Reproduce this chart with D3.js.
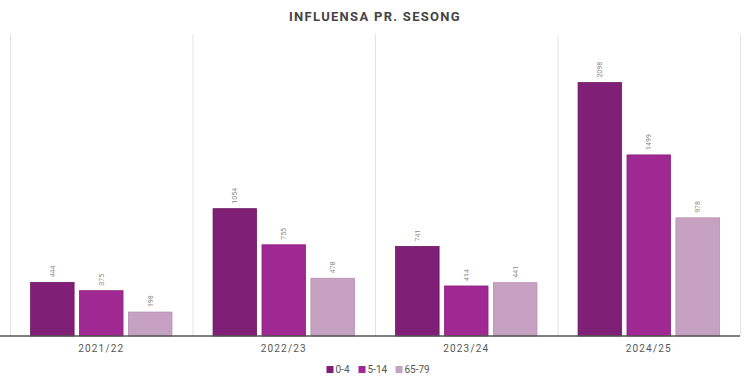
<!DOCTYPE html>
<html><head><meta charset="utf-8">
<script src="https://cdn.jsdelivr.net/npm/d3@7"></script>
<style>body{margin:0;background:#fff}svg{display:block;font-family:Roboto, "Noto Sans", sans-serif}</style>
</head><body><svg id="c" width="750" height="383"></svg>
<script>
const seasons = ["2021/22","2022/23","2023/24","2024/25"];
const groups = ["0-4","5-14","65-79"];
const v0_4 = [444,1054,741,2098];
const v5_14 = [375,755,414,1499];
const v65_79 = [198,478,441,978];
const colors = ["#7f1f75","#a02893","#c7a1c2"];
const strokes = ["#6e1a65","#8c2181","#b58db0"];
const yMax = 2500;

const svg = d3.select("#c");
const W=750,H=383, L=10, R=740, T=34, B=336;
const series=[v0_4,v5_14,v65_79];
const x = d3.scaleBand().domain(seasons).range([L,R]).padding(0);
const xi = d3.scaleBand().domain(groups).range([0,x.bandwidth()]).paddingInner(0.11).paddingOuter(0.42);
const y = d3.scaleLinear().domain([0,yMax]).range([B,T]);

svg.append("text").attr("x",375).attr("y",21).attr("text-anchor","middle")
 .attr("font-size",13).attr("font-weight",700).attr("letter-spacing",1.3).attr("fill","#444")
 .text("INFLUENSA PR. SESONG");

// gridlines
const gl = seasons.map(s=>x(s)).concat([R]);
svg.selectAll(".g").data(gl).enter().append("line")
 .attr("x1",d=>d+0.5).attr("x2",d=>d+0.5).attr("y1",T).attr("y2",B).attr("stroke","#e2e2e2").attr("stroke-width",1);

seasons.forEach((s,i)=>{
  groups.forEach((g,j)=>{
    const val=series[j][i];
    const bx=x(s)+xi(g), bw=xi.bandwidth();
    svg.append("rect").attr("x",bx).attr("y",y(val)).attr("width",bw).attr("height",B-y(val))
      .attr("fill",colors[j]).attr("stroke",strokes[j]).attr("stroke-width",0.8);
    const cx=bx+bw/2, ty=y(val)-5;
    svg.append("text").attr("transform",`translate(${cx+2.5},${ty}) rotate(-90)`)
      .attr("font-size",7).attr("fill","#888").attr("text-anchor","start").text(val);
  });
});

const ax = svg.append("g").attr("transform",`translate(0,${B})`)
 .call(d3.axisBottom(x).tickSize(0).tickPadding(9));
ax.select(".domain").attr("stroke","#555").attr("stroke-width",1.5).attr("d",`M${L-10},0H${R}`);
ax.selectAll("text").attr("font-size",10).attr("fill","#555").attr("letter-spacing",1.2).attr("font-family","Roboto, sans-serif");

// legend
const leg = svg.append("g");
const lx=[326.5,358.5,395.5];
groups.forEach((g,j)=>{
  leg.append("rect").attr("x",lx[j]).attr("y",366).attr("width",7).attr("height",7).attr("fill",colors[j]);
  leg.append("text").attr("x",lx[j]+9).attr("y",373).attr("font-size",10).attr("fill","#555").text(g);
});
</script></body></html>
